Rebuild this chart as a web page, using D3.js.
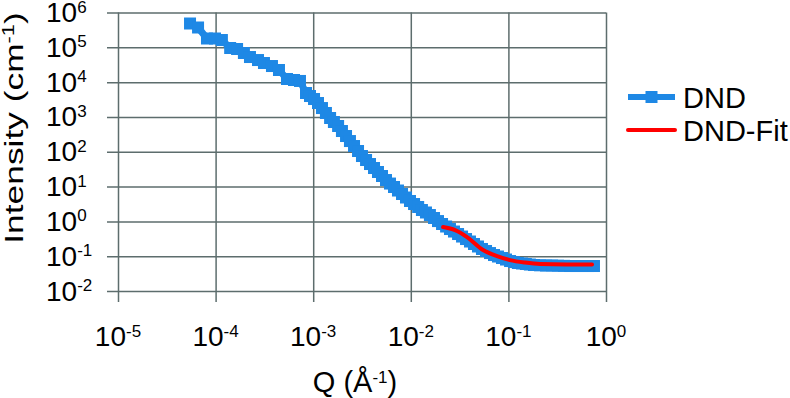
<!DOCTYPE html>
<html>
<head>
<meta charset="utf-8">
<script src="https://cdn.jsdelivr.net/npm/d3@7"></script>
<style>
  html, body { margin: 0; padding: 0; background: #fff; }
  svg { display: block; font-family: "Liberation Sans", Arial, sans-serif; }
</style>
</head>
<body>
<svg id="chart" width="790" height="398"></svg>
<script>
// ---- data ----
const dndQ = [5.47e-5, 6.61e-5, 8.16e-5, 9.86e-5, 1.16e-4, 1.41e-4, 1.66e-4, 1.95e-4, 2.25e-4, 2.72e-4,
  3.13e-4, 3.78e-4, 4.46e-4, 5.39e-4, 6.36e-4, 7.32e-4,
  8.44e-4, 9.27e-4, 1.02e-3, 1.12e-3, 1.23e-3, 1.35e-3, 1.49e-3, 1.63e-3, 1.80e-3, 1.97e-3,
  2.17e-3, 2.38e-3, 2.62e-3, 2.88e-3, 3.16e-3, 3.48e-3, 3.82e-3, 4.20e-3, 4.61e-3, 5.07e-3,
  5.57e-3, 6.12e-3, 6.73e-3, 7.39e-3, 8.13e-3, 8.93e-3, 9.81e-3, 1.08e-2, 1.19e-2, 1.30e-2,
  1.43e-2, 1.57e-2, 1.73e-2, 1.90e-2, 2.09e-2, 2.30e-2, 2.52e-2, 2.77e-2, 3.05e-2, 3.35e-2,
  3.68e-2, 4.04e-2, 4.44e-2, 4.88e-2, 5.36e-2, 5.90e-2, 6.48e-2, 7.12e-2, 7.82e-2, 8.60e-2,
  9.45e-2, 0.104, 0.114, 0.125, 0.138, 0.151, 0.166, 0.183, 0.211, 0.243,
  0.280, 0.322, 0.371, 0.428, 0.493, 0.568, 0.654, 0.753];
const dndI = [4.83e5, 3.71e5, 1.79e5, 1.79e5, 1.62e5, 9.55e4, 8.94e4, 6.86e4, 5.26e4, 4.31e4,
  3.54e4, 2.90e4, 2.23e4, 1.23e4, 1.15e4, 1.08e4,
  4.87e3, 3.99e3, 3.27e3, 2.51e3, 1.80e3, 1.30e3, 932, 715, 549, 394,
  283, 203, 146, 105, 75.4, 57.9, 44.4, 34.1, 26.2, 20.1,
  15.4, 12.2, 9.71, 7.70, 6.11, 4.85, 3.85, 3.15, 2.59, 2.12,
  1.80, 1.52, 1.25, 1.02, 0.840, 0.712, 0.603, 0.511, 0.433, 0.367,
  0.311, 0.264, 0.224, 0.190, 0.161, 0.141, 0.123, 0.108, 0.0978, 0.0886,
  0.0802, 0.0726, 0.0680, 0.0637, 0.0616, 0.0596, 0.0576, 0.0558, 0.0547, 0.0540,
  0.0540, 0.0532, 0.0528, 0.0522, 0.0522, 0.0522, 0.0522, 0.0522];
const fitQ = [0.0214, 0.0284, 0.0377, 0.0550, 0.0764, 0.1038, 0.148, 0.211, 0.398, 0.719];
const fitI = [0.686, 0.56, 0.354, 0.150, 0.100, 0.0773, 0.0655, 0.0593, 0.0574, 0.0574];
const xTickExp = [-5, -4, -3, -2, -1, 0];
const yTickExp = [-2, -1, 0, 1, 2, 3, 4, 5, 6];
const seriesNames = ["DND", "DND-Fit"];

// ---- layout ----
const svg = d3.select("#chart");
const pL = 118, pR = 606, pT = 12.5, pB = 291;
const gridColor = "#5d6d6d";
const blue = "#1e88e5", red = "#ff0000";
const tickFont = 28, supFont = 17, supShift = 9.5;

const x = d3.scaleLog().domain([1e-5, 1]).range([pL, pR]);
const y = d3.scaleLog().domain([1e-2, 1e6]).range([pB, pT]);

// horizontal gridlines (extend left past axis as ticks)
const gy = svg.append("g").attr("transform", `translate(${pL - 11},0)`)
  .call(d3.axisRight(y).tickValues(yTickExp.map(e => Math.pow(10, e)))
    .tickSize(pR - pL + 11).tickFormat(""));
gy.select(".domain").remove();
gy.selectAll(".tick line").attr("stroke", gridColor).attr("stroke-width", 1.5);

// vertical gridlines (extend below axis as ticks)
const gx = svg.append("g").attr("transform", `translate(0,${pB + 11})`)
  .call(d3.axisTop(x).tickValues(xTickExp.map(e => Math.pow(10, e)))
    .tickSize(pB - pT + 11).tickFormat(""));
gx.select(".domain").remove();
gx.selectAll(".tick line").attr("stroke", gridColor).attr("stroke-width", 1.5);

function powLabel(sel, exp) {
  sel.append("tspan").text("10");
  sel.append("tspan").attr("dy", -supShift).attr("font-size", supFont).text(String(exp));
}

// y tick labels
yTickExp.forEach(e => {
  const t = svg.append("text")
    .attr("x", 46).attr("y", y(Math.pow(10, e)) + 9.5)
    .attr("font-size", tickFont).attr("fill", "#000");
  powLabel(t, e);
});

// x tick labels
xTickExp.forEach(e => {
  const t = svg.append("text")
    .attr("x", x(Math.pow(10, e))).attr("y", 346)
    .attr("text-anchor", "middle")
    .attr("font-size", tickFont).attr("fill", "#000");
  powLabel(t, e);
});

// axis titles
const xt = svg.append("text").attr("x", 355).attr("y", 392)
  .attr("text-anchor", "middle").attr("font-size", 29);
xt.append("tspan").text("Q (Å");
xt.append("tspan").attr("dy", -supShift).attr("font-size", supFont).text("-1");
xt.append("tspan").attr("dy", supShift).text(")");

const yt = svg.append("text")
  .attr("transform", "translate(23,128) rotate(-90) scale(1.36,1)")
  .attr("text-anchor", "middle").attr("font-size", 26);
yt.append("tspan").text("Intensity (cm");
yt.append("tspan").attr("dy", -9).attr("font-size", 16).text("-1");
yt.append("tspan").attr("dy", 9).text(")");

// DND series
const dnd = dndQ.map((q, i) => [q, dndI[i]]);
const line = d3.line().x(d => x(d[0])).y(d => y(d[1]));
svg.append("path").datum(dnd).attr("d", line)
  .attr("fill", "none").attr("stroke", blue).attr("stroke-width", 7)
  .attr("stroke-linejoin", "round");
const sq = 12;
svg.append("g").selectAll("rect").data(dnd).join("rect")
  .attr("x", d => x(d[0]) - sq / 2).attr("y", d => y(d[1]) - sq / 2)
  .attr("width", sq).attr("height", sq).attr("fill", blue);

// Fit series
const fit = fitQ.map((q, i) => [q, fitI[i]]);
svg.append("path").datum(fit)
  .attr("d", d3.line().x(d => x(d[0])).y(d => y(d[1])).curve(d3.curveMonotoneX))
  .attr("fill", "none").attr("stroke", red).attr("stroke-width", 4)
  .attr("stroke-linecap", "round");

// legend
const lg = svg.append("g");
const ly = [97, 130];
lg.append("line").attr("x1", 628).attr("x2", 675).attr("y1", ly[0]).attr("y2", ly[0])
  .attr("stroke", blue).attr("stroke-width", 6);
lg.append("rect").attr("x", 651.5 - sq / 2).attr("y", ly[0] - sq / 2)
  .attr("width", sq).attr("height", sq).attr("fill", blue);
lg.append("line").attr("x1", 628).attr("x2", 675).attr("y1", ly[1]).attr("y2", ly[1])
  .attr("stroke", red).attr("stroke-width", 4).attr("stroke-linecap", "round");
seriesNames.forEach((n, i) => {
  lg.append("text").attr("x", 683).attr("y", ly[i] + 10.5)
    .attr("font-size", 29).attr("fill", "#000").text(n);
});
</script>
</body>
</html>
